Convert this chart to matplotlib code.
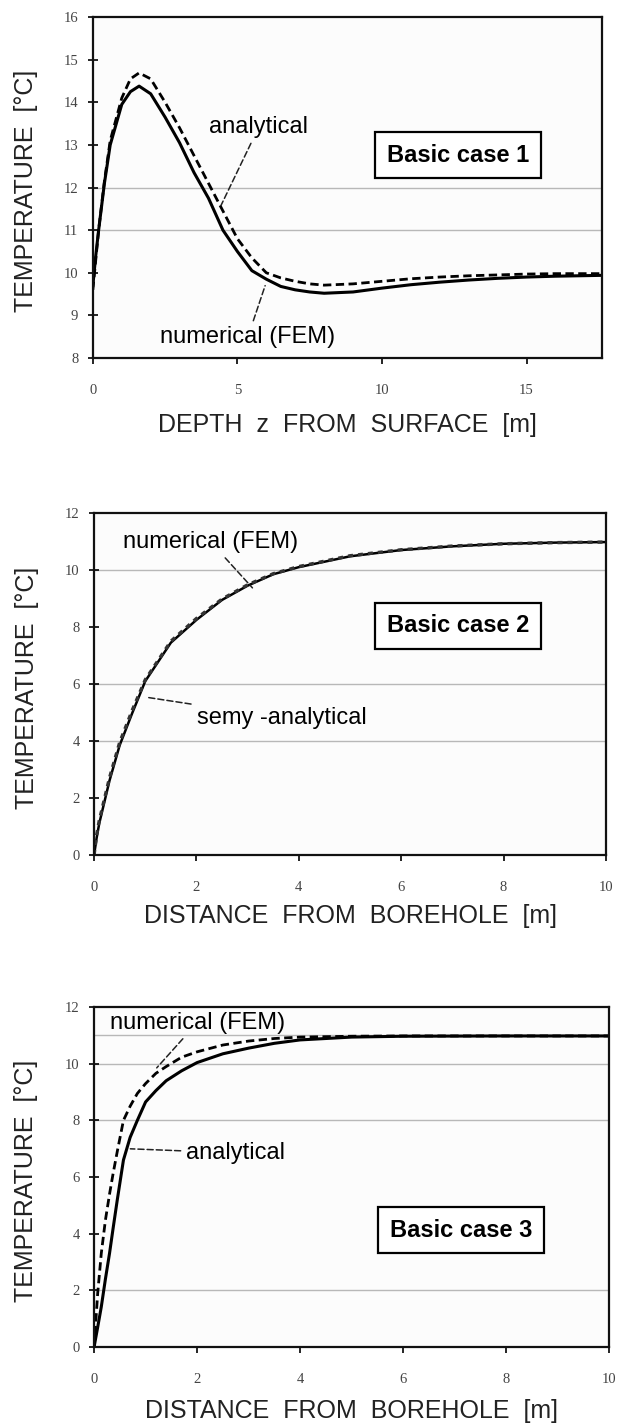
import matplotlib
matplotlib.use("Agg")
import matplotlib.pyplot as plt

# ---------------- data ----------------
# Panel 1: Basic case 1 (depth profile)
depth_x = [0, 0.1, 0.2, 0.4, 0.6, 1.0, 1.3, 1.6, 2.0, 2.5, 3.0, 3.5, 4.0, 4.5, 5.0,
           5.5, 6.0, 6.5, 7.0, 7.5, 8.0, 9.0, 10, 11, 12, 13, 14, 15, 16, 17.6]
case1_numerical = [9.7, 10.4, 11.0, 12.1, 13.0, 13.95, 14.25, 14.38, 14.2, 13.65, 13.05,
                   12.35, 11.75, 11.0, 10.5, 10.05, 9.85, 9.68, 9.6, 9.55, 9.52, 9.55,
                   9.64, 9.72, 9.78, 9.83, 9.87, 9.9, 9.92, 9.94]
case1_analytical = [9.6, 10.3, 11.0, 12.15, 13.1, 14.1, 14.55, 14.69, 14.55, 14.0, 13.4,
                    12.75, 12.1, 11.45, 10.8, 10.35, 10.0, 9.88, 9.8, 9.74, 9.71, 9.74,
                    9.8, 9.86, 9.9, 9.93, 9.95, 9.97, 9.98, 9.98]

# Panel 2: Basic case 2 (radial distance)
dist2_x = [0, 0.05, 0.1, 0.2, 0.3, 0.5, 0.75, 1.0, 1.5, 2.0, 2.5, 3.0, 3.5, 4.0,
           5.0, 6.0, 7.0, 8.0, 9.0, 10]
case2_numerical = [0.0, 0.6, 1.1, 1.85, 2.6, 3.85, 5.0, 6.1, 7.45, 8.25, 8.95, 9.45,
                   9.85, 10.1, 10.48, 10.7, 10.83, 10.92, 10.96, 10.98]
case2_semianalytical = [0.0, 0.7, 1.2, 1.95, 2.7, 3.95, 5.1, 6.15, 7.5, 8.3, 8.98, 9.48,
                        9.87, 10.12, 10.5, 10.71, 10.84, 10.92, 10.96, 10.98]

# Panel 3: Basic case 3 (radial distance)
dist3_x = [0, 0.07, 0.14, 0.22, 0.3, 0.37, 0.45, 0.57, 0.7, 0.84, 1.0, 1.2, 1.4, 1.7,
           2.0, 2.5, 3.0, 3.5, 4.0, 5.0, 6.0, 8.0, 10.0]
case3_solid = [0, 0.7, 1.42, 2.4, 3.31, 4.2, 5.19, 6.6, 7.4, 8.0, 8.65, 9.05, 9.4, 9.75,
               10.04, 10.35, 10.55, 10.72, 10.84, 10.94, 10.97, 10.98, 10.98]
case3_dashed = [0, 1.9, 3.31, 4.48, 5.4, 6.13, 6.9, 8.0, 8.5, 8.95, 9.3, 9.66, 9.9, 10.23,
                10.42, 10.66, 10.8, 10.89, 10.94, 10.97, 10.98, 10.98, 10.98]

x1_ticks = [0, 5, 10, 15]
y1_ticks = [8, 9, 10, 11, 12, 13, 14, 15, 16]
x23_ticks = [0, 2, 4, 6, 8, 10]
y23_ticks = [0, 2, 4, 6, 8, 10, 12]

grid1 = [11, 12]
grid2 = [4, 6, 10]
grid3 = [2, 8, 10, 11]

# ---------------- styling ----------------
plt.rcParams['font.family'] = ['Liberation Sans', 'DejaVu Sans']
LABEL_FS = 18
ANN_FS = 17
BOX_FS = 17
TICK_FS = 10.5
SOLID = dict(color='black', lw=2.2, linestyle='-')
DASHED = dict(color='black', lw=2.0, linestyle=(0, (3, 1.6)))
LEADER = dict(arrowstyle='-', color='#222222', lw=1.1, linestyle=(0, (4, 2)))

fig = plt.figure(figsize=(6.19, 14.23), dpi=100, facecolor='white')

ax1 = fig.add_axes([0.150, 0.7484, 0.822, 0.2396])
ax2 = fig.add_axes([0.152, 0.3992, 0.827, 0.2403])
ax3 = fig.add_axes([0.152, 0.0534, 0.832, 0.2389])


def style(ax, xticks, yticks, xlabel, xl_y):
    ax.set_facecolor('#fcfcfc')
    for s in ax.spines.values():
        s.set_linewidth(1.6)
        s.set_color('#111111')
    ax.set_xticks(xticks)
    ax.set_yticks(yticks)
    ax.tick_params(axis='x', direction='out', length=4, width=1.2, pad=15,
                   labelsize=TICK_FS, labelcolor='#444444')
    ax.tick_params(axis='y', direction='inout', length=7, width=1.2, pad=7,
                   labelsize=TICK_FS, labelcolor='#444444')
    for lab in ax.get_xticklabels() + ax.get_yticklabels():
        lab.set_family(['Liberation Serif', 'DejaVu Serif'])
    ax.set_xlabel(xlabel, fontsize=LABEL_FS, color='#222222')
    ax.set_ylabel('TEMPERATURE  [°C]', fontsize=LABEL_FS, color='#222222')
    ax.xaxis.set_label_coords(0.5, xl_y)
    ax.yaxis.set_label_coords(-0.108, 0.49)


def grid(ax, levels):
    for g in levels:
        ax.axhline(g, color='#b8b8b8', lw=1.0, zorder=0.5)


# Panel 1
grid(ax1, grid1)
ax1.plot(depth_x, case1_analytical, **DASHED)
ax1.plot(depth_x, case1_numerical, **SOLID)
ax1.set_xlim(0, 17.6)
ax1.set_ylim(8, 16)
style(ax1, x1_ticks, y1_ticks, 'DEPTH  z  FROM  SURFACE  [m]', -0.16)
ax1.annotate('analytical', xy=(4.39, 11.52), xytext=(5.74, 13.42), fontsize=ANN_FS,
             ha='center', va='center', arrowprops=LEADER)
ax1.annotate('numerical (FEM)', xy=(5.99, 9.76), xytext=(5.36, 8.49), fontsize=ANN_FS,
             ha='center', va='center', arrowprops=LEADER)
ax1.text(0.717, 0.595, 'Basic case 1', transform=ax1.transAxes, fontsize=BOX_FS,
         fontweight='bold', ha='center', va='center',
         bbox=dict(boxstyle='square,pad=0.5', fc='white', ec='black', lw=1.6))

# Panel 2
grid(ax2, grid2)
ax2.plot(dist2_x, case2_numerical, color='black', lw=1.8)
ax2.plot(dist2_x, case2_semianalytical, color='#333333', lw=2.4, linestyle=(0, (1.5, 1.5)))
ax2.set_xlim(0, 10)
ax2.set_ylim(0, 12)
style(ax2, x23_ticks, y23_ticks, 'DISTANCE  FROM  BOREHOLE  [m]', -0.143)
ax2.annotate('numerical (FEM)', xy=(3.13, 9.30), xytext=(2.28, 10.98), fontsize=ANN_FS,
             ha='center', va='center', arrowprops=LEADER)
ax2.annotate('semy -analytical', xy=(1.0, 5.54), xytext=(3.66, 4.81), fontsize=ANN_FS,
             ha='center', va='center', arrowprops=LEADER)
ax2.text(0.711, 0.670, 'Basic case 2', transform=ax2.transAxes, fontsize=BOX_FS,
         fontweight='bold', ha='center', va='center',
         bbox=dict(boxstyle='square,pad=0.5', fc='white', ec='black', lw=1.6))

# Panel 3
grid(ax3, grid3)
ax3.plot(dist3_x, case3_dashed, **DASHED)
ax3.plot(dist3_x, case3_solid, **SOLID)
ax3.set_xlim(0, 10)
ax3.set_ylim(0, 12)
style(ax3, x23_ticks, y23_ticks, 'DISTANCE  FROM  BOREHOLE  [m]', -0.153)
ax3.annotate('numerical (FEM)', xy=(1.18, 9.78), xytext=(2.0, 11.44), fontsize=ANN_FS,
             ha='center', va='center', arrowprops=LEADER)
ax3.annotate('analytical', xy=(0.65, 7.0), xytext=(2.75, 6.85), fontsize=ANN_FS,
             ha='center', va='center', arrowprops=LEADER)
ax3.text(0.713, 0.344, 'Basic case 3', transform=ax3.transAxes, fontsize=BOX_FS,
         fontweight='bold', ha='center', va='center',
         bbox=dict(boxstyle='square,pad=0.5', fc='white', ec='black', lw=1.6))

fig.savefig('out.png', dpi=100, facecolor='white')
